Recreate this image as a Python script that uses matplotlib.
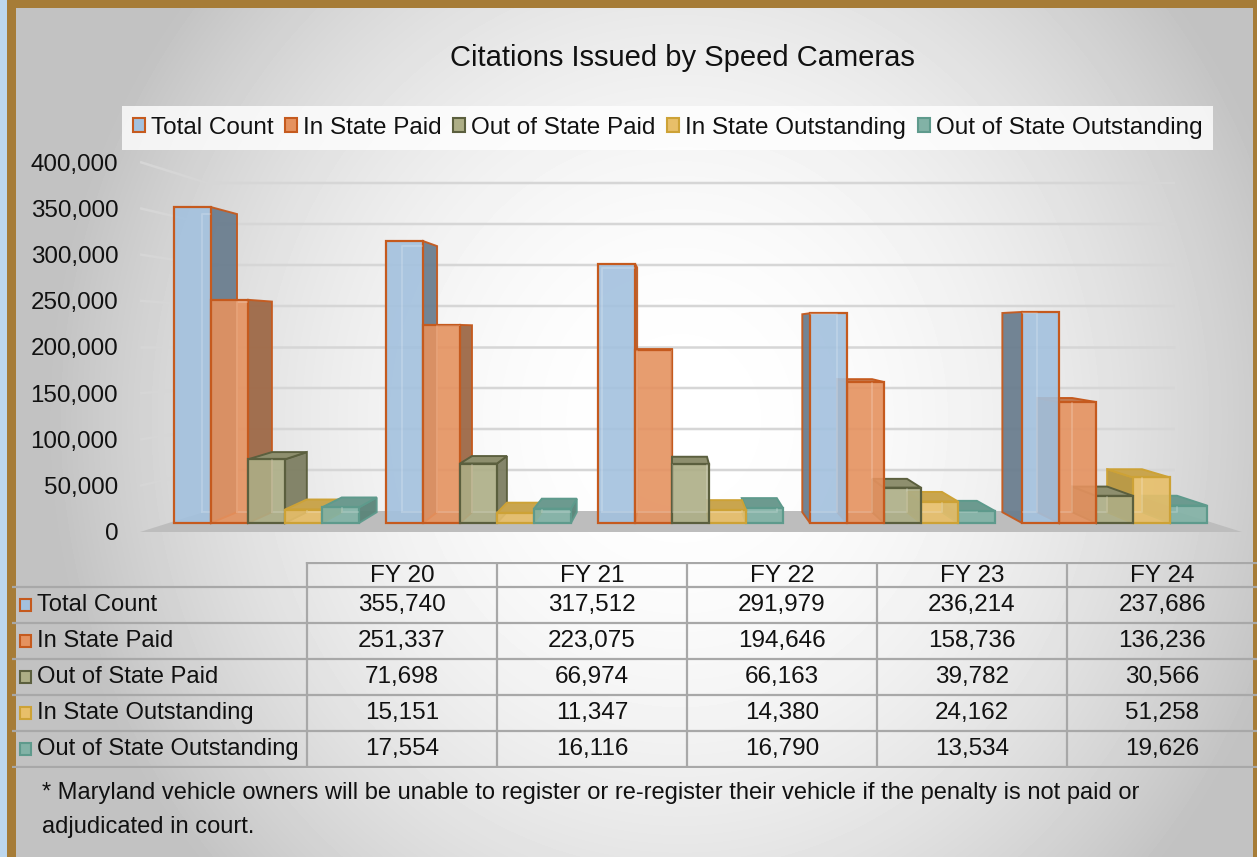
import numpy as np
import matplotlib
matplotlib.use("Agg")
import matplotlib.pyplot as plt
from matplotlib.patches import Polygon, Rectangle, Patch
from matplotlib.colors import to_rgba

plt.rcParams['font.family'] = ['Liberation Sans', 'DejaVu Sans']

# ---------------- data ----------------
years = ['FY 20', 'FY 21', 'FY 22', 'FY 23', 'FY 24']
series_names = ['Total Count', 'In State Paid', 'Out of State Paid',
                'In State Outstanding', 'Out of State Outstanding']
total_count = [355740, 317512, 291979, 236214, 237686]
in_state_paid = [251337, 223075, 194646, 158736, 136236]
out_state_paid = [71698, 66974, 66163, 39782, 30566]
in_state_outstanding = [15151, 11347, 14380, 24162, 51258]
out_state_outstanding = [17554, 16116, 16790, 13534, 19626]
y_ticks = [0, 50000, 100000, 150000, 200000, 250000, 300000, 350000, 400000]
title = 'Citations Issued by Speed Cameras'
footnote = ['* Maryland vehicle owners will be unable to register or re-register their vehicle if the penalty is not paid or',
            'adjudicated in court.']

series = [total_count, in_state_paid, out_state_paid, in_state_outstanding, out_state_outstanding]

# ---------------- styles ----------------
front_c = ['#A3C1DE', '#E5925F', '#ADAE86', '#E8BF69', '#82B2A6']
edge_c = ['#C55A1E', '#C55A1E', '#5B5F3E', '#CDA236', '#5E9A8C']
side_c = ['#6B7E8F', '#9E6947', '#7E7F62', '#B8963F', '#5A8479']
top_c = ['#8A9FB3', '#C47B50', '#8E8F6E', '#C9A54E', '#6C9A8F']
text_c = '#111111'
fs_table = 17.5
fs_rowlab = 17.1

W, H = 1257, 857
fig = plt.figure(figsize=(W / 100, H / 100), dpi=100)


def fx(px):
    return px / W


def fy(py):
    return 1 - py / H


# ---------------- background ----------------
bg = fig.add_axes([0, 0, 1, 1], zorder=0)
bg.set_axis_off()
yy, xx = np.mgrid[0:H, 0:W]
d2 = ((xx - 680) / 560.0) ** 2 + ((yy - 420) / 600.0) ** 2
grad = np.clip(255 - 48 * d2, 194, 255) / 255.0
bg.imshow(grad, cmap='gray', vmin=0, vmax=1, extent=[0, W, H, 0], aspect='auto', interpolation='bilinear')
bg.set_xlim(0, W)
bg.set_ylim(H, 0)
bg.add_patch(Rectangle((0, 0), 7, H, color='#BDD7EE', lw=0))
bg.add_patch(Rectangle((7, 0), 9, H, color='#A67C37', lw=0))
bg.add_patch(Rectangle((7, 0), W - 7, 8, color='#A67C37', lw=0))
bg.add_patch(Rectangle((1253, 0), 4, H, color='#A67C37', lw=0))

# ---------------- chart axes ----------------
L, R, T, B = 140, 1242, 150, 545
rect = [fx(L), fy(B), (R - L) / W, (B - T) / H]
ax_wall = fig.add_axes(rect, zorder=1)
ax_lab = fig.add_axes(rect, zorder=2)
ax = fig.add_axes(rect, zorder=3)

g0, gs = 266.5, 212.0
xlim = ((L - g0) / gs, (R - g0) / gs)


def ylim_for(base_px, px_per_50k):
    return (-(B - base_px) * 50000 / px_per_50k, (base_px - T) * 50000 / px_per_50k)


for a in (ax_wall, ax_lab, ax):
    a.set_xlim(*xlim)
    a.patch.set_visible(False)
    for s in a.spines.values():
        s.set_visible(False)
    a.set_xticks([])
ax.set_ylim(*ylim_for(523, 44.4))
ax_lab.set_ylim(*ylim_for(532, 46.25))
ax_wall.set_ylim(*ylim_for(511, 41.0))
ax.set_yticks([])
ax_wall.set_yticks([])
ax_lab.set_yticks(y_ticks)
ax_lab.set_yticklabels([f'{v:,}' for v in y_ticks])
ax_lab.tick_params(axis='y', length=0, pad=15.8, labelsize=17.4, labelcolor=text_c)

# back wall gridlines + floor
wx0, wx1 = (207 - g0) / gs, (1175 - g0) / gs
inv_wall = ax_wall.transData.inverted()
for v in y_ticks[1:]:
    p = ax_lab.transData.transform((xlim[0], v))
    q = inv_wall.transform(p)
    ax_wall.plot([q[0], wx0, wx1], [q[1], v, v], color='#D6D6D6', lw=1.8,
                 solid_capstyle='butt', zorder=1)
fl = inv_wall.transform(ax_lab.transData.transform((xlim[0], 0)))
fr = inv_wall.transform(ax_lab.transData.transform((xlim[1], 0)))
ax_wall.add_patch(Polygon([fl, fr, (wx1, 0), (wx0, 0)], closed=True,
                          facecolor='#BDBDBD', edgecolor='none', zorder=2))

# ---------------- bars (pseudo 3D) ----------------
w = 37.0 / gs
n = len(series)
VP = np.array([673.0, H - 331.0])
k = 0.0563
inv = ax.transData.inverted()


def back(pt):
    pt = np.asarray(pt, dtype=float)
    return pt + k * (VP - pt)


items = []
for j, vals in enumerate(series):
    xs = np.arange(len(years)) + (j - (n - 1) / 2) * w
    bars = ax.bar(xs, vals, width=w, facecolor=to_rgba(front_c[j], 0.9),
                  edgecolor=edge_c[j], linewidth=1.6)
    for patch in bars.patches:
        bb = patch.get_bbox()
        (dx0, dy0), (dx1, dy1) = ax.transData.transform([(bb.x0, bb.y0), (bb.x1, bb.y1)])
        items.append((abs((dx0 + dx1) / 2 - VP[0]), patch, j, dx0, dy0, dx1, dy1))

items.sort(key=lambda t: -t[0])
for r, (dist, patch, j, x0, y0, x1, y1) in enumerate(items):
    base = 10 + 3 * r
    cx = (x0 + x1) / 2
    ex = x1 if cx < VP[0] else x0
    side = [(ex, y0), (ex, y1), back((ex, y1)), back((ex, y0))]
    ax.add_patch(Polygon(inv.transform(side), closed=True, facecolor=side_c[j],
                         edgecolor=edge_c[j], lw=1.4, zorder=base, alpha=0.95))
    if y1 < VP[1]:
        top = [(x0, y1), (x1, y1), back((x1, y1)), back((x0, y1))]
        ax.add_patch(Polygon(inv.transform(top), closed=True, facecolor=top_c[j],
                             edgecolor=edge_c[j], lw=1.4, zorder=base + 0.1))
    patch.set_zorder(base + 0.2)
    bpts = inv.transform([back((x0, y0)), back((x1, y0)), back((x1, y1)), back((x0, y1)), back((x0, y0))])
    ln, = ax.plot(bpts[:, 0], bpts[:, 1], color='white', alpha=0.2, lw=1.3, zorder=base + 0.3)
    ln.set_clip_path(patch)

# ---------------- title & legend ----------------
fig.text(fx(682), fy(58), title, fontsize=21, ha='center', va='center', color=text_c)
handles = [Patch(facecolor=front_c[j], edgecolor=edge_c[j], lw=1.5) for j in range(n)]
leg = fig.legend(handles, series_names, loc='center', bbox_to_anchor=(fx(667.5), fy(128)),
                 ncol=5, fontsize=17.5, handlelength=0.5, handleheight=0.5, handletextpad=0.25,
                 columnspacing=0.47, borderpad=0.45, frameon=True, fancybox=False)
leg.get_frame().set_facecolor((1, 1, 1, 0.45))
leg.get_frame().set_edgecolor('none')
for t in leg.get_texts():
    t.set_color(text_c)

# ---------------- data table ----------------
TL, TR, TT, TB = 12, 1257, 562, 768
ax_t = fig.add_axes([fx(TL), fy(TB), (TR - TL) / W, (TB - TT) / H], zorder=4)
ax_t.set_xlim(TL, TR)
ax_t.set_ylim(TB, TT)
ax_t.set_axis_off()
lab_end = 307
col_w = (TR - lab_end) / len(years)
col_edges = [lab_end + i * col_w for i in range(len(years) + 1)]
header_bottom = 587
row_h = 36
grid_c = '#A8A8A8'
ax_t.plot([lab_end, TR], [TT + 0.5, TT + 0.5], color=grid_c, lw=1.6)
for i in range(n + 1):
    yl = header_bottom + i * row_h
    ax_t.plot([TL, TR], [yl, yl], color=grid_c, lw=1.6)
for xe in col_edges[:-1]:
    ax_t.plot([xe, xe], [TT, header_bottom + n * row_h], color=grid_c, lw=1.6)
for c, yr in enumerate(years):
    ax_t.text((col_edges[c] + col_edges[c + 1]) / 2, (TT + header_bottom) / 2 + 1, yr,
              fontsize=fs_table, ha='center', va='center', color=text_c)
for j, name in enumerate(series_names):
    rc = header_bottom + row_h / 2 + j * row_h
    ax_t.add_patch(Rectangle((20, rc - 6), 11, 12, facecolor=front_c[j], edgecolor=edge_c[j], lw=1.5))
    ax_t.text(37, rc, name, fontsize=fs_rowlab, ha='left', va='center', color=text_c)
    for c, v in enumerate(series[j]):
        ax_t.text((col_edges[c] + col_edges[c + 1]) / 2, rc, f'{v:,}', fontsize=fs_table,
                  ha='center', va='center', color=text_c)

# ---------------- footnote ----------------
fig.text(fx(42), fy(793), footnote[0], fontsize=17, ha='left', va='center', color=text_c)
fig.text(fx(42), fy(827), footnote[1], fontsize=17, ha='left', va='center', color=text_c)

fig.savefig('out.png', dpi=100)
